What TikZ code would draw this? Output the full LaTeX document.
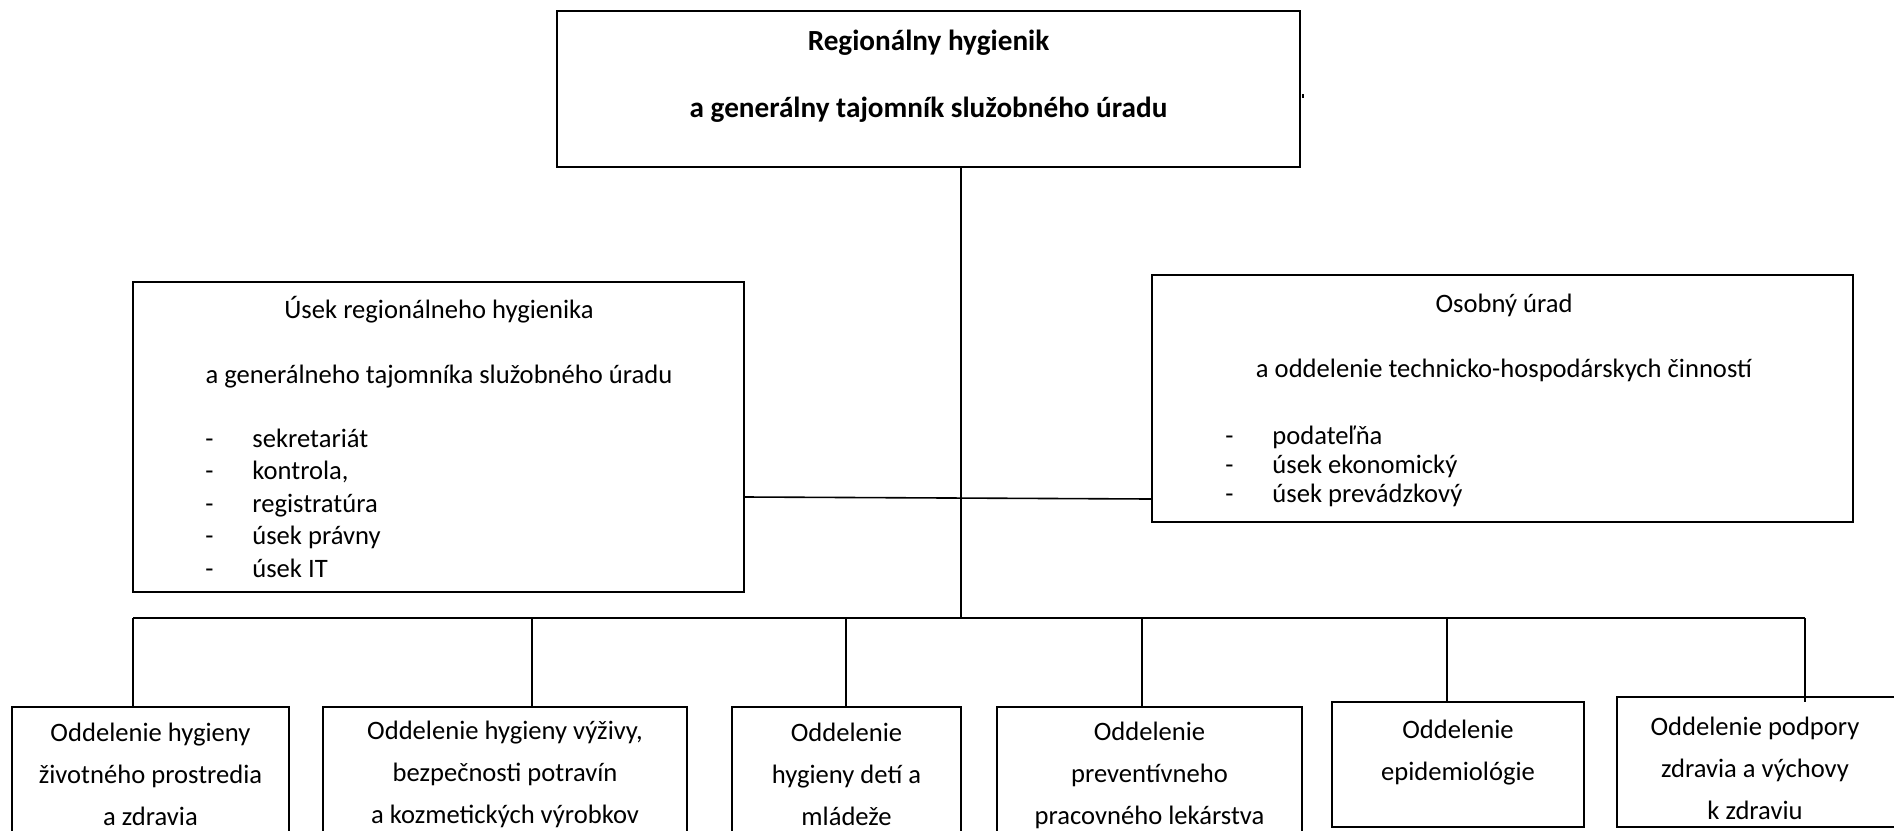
\documentclass[tikz,border=0pt]{standalone}
\usepackage{fontspec}
\setmainfont{Carlito}
\newcommand{\dashitem}[1]{\makebox[23.5pt][l]{-}#1}
\begin{document}
\begin{tikzpicture}[x=0.5pt,y=-0.5pt,
  box/.style={draw, line width=1.2pt, inner sep=0pt},
  conn/.style={line width=0.8pt},
  ttl/.style={inner sep=0pt, align=center, font=\fontsize{13.3}{32.5}\selectfont},
  lstl/.style={inner sep=0pt, align=left, anchor=west, font=\fontsize{13.3}{16.25}\selectfont},
  lstr/.style={inner sep=0pt, align=left, anchor=west, font=\fontsize{13.3}{14.5}\selectfont},
  bot/.style={inner sep=0pt, align=center, font=\fontsize{13.3}{21}\selectfont},
  head/.style={inner sep=0pt, align=center, font=\fontsize{14.6}{33.5}\selectfont\bfseries}]
\useasboundingbox (0,0) rectangle (1894,830);
\clip (0,0) rectangle (1894,830);

% boxes
\node[box, minimum width=371.5pt, minimum height=78pt] (top) at (928.5,89) {};
\node[box, minimum width=305.5pt, minimum height=155pt] (left) at (438.5,437) {};
\node[box, minimum width=350.5pt, minimum height=123.5pt] (right) at (1502.5,398.5) {};
\node[box, minimum width=138.5pt, minimum height=96.5pt] (b1) at (150.5,803.5) {};
\node[box, minimum width=182pt, minimum height=96.5pt] (b2) at (505,803.5) {};
\node[box, minimum width=114.5pt, minimum height=96.5pt] (b3) at (846.5,803.5) {};
\node[box, minimum width=152.5pt, minimum height=96.5pt] (b4) at (1149.5,803.5) {};
\node[box, minimum width=126pt, minimum height=62.5pt] (b5) at (1458,764.5) {};
\node[box, minimum width=166.5pt, minimum height=65pt] (b6) at (1783.5,762) {};

% texts
\node[head] (ttop) at (928.5,76.5) {Regionálny hygienik\\a generálny tajomník služobného úradu};
\node[ttl] (tleft) at (439,342.5) {Úsek regionálneho hygienika\\a generálneho tajomníka služobného úradu};
\node[lstl] (ileft) at (205,503) {\dashitem{sekretariát}\\\dashitem{kontrola,}\\\dashitem{registratúra}\\\dashitem{úsek právny}\\\dashitem{úsek IT}};
\node[ttl] (tright) at (1504,337.5) {Osobný úrad\\a oddelenie technicko-hospodárskych činností};
\node[lstr] (iright) at (1225,466) {\dashitem{podateľňa}\\\dashitem{úsek ekonomický}\\\dashitem{úsek prevádzkový}};
\node[bot] (t1) at (150.5,774) {Oddelenie hygieny\\životného prostredia\\a zdravia};
\node[bot] (t2) at (505,774) {Oddelenie hygieny výživy,\\bezpečnosti potravín\\a kozmetických výrobkov};
\node[bot] (t3) at (846.5,774) {Oddelenie\\hygieny detí a\\mládeže};
\node[bot] (t4) at (1149.5,775) {Oddelenie\\preventívneho\\pracovného lekárstva};
\node[bot] (t5) at (1458,753) {Oddelenie\\epidemiológie};
\node[bot] (t6) at (1755,768) {Oddelenie podpory\\zdravia a výchovy\\k zdraviu};

% connectors
\coordinate (m) at (961,618);
\coordinate (j1) at (133,618);
\coordinate (j2) at (532,618);
\coordinate (j3) at (846,618);
\coordinate (j4) at (1142,618);
\coordinate (j5) at (1447,618);
\coordinate (j6) at (1805,618);
\coordinate (e6) at (1805,702);
\draw[conn] (top.south -| m) -- (m);
\draw[conn] (left.east |- 0,497) -- (right.west |- 0,499);
\draw[conn] (j1) -- (j6);
\draw[conn] (j1) -- (j1 |- b1.north);
\draw[conn] (j2) -- (j2 |- b2.north);
\draw[conn] (j3) -- (j3 |- b3.north);
\draw[conn] (j4) -- (j4 |- b4.north);
\draw[conn] (j5) -- (j5 |- b5.north);
\draw[conn] (j6) -- (e6);

% stray mark right of the top box
\draw[line width=0.8pt] (1303,94) -- (1303,98);
\end{tikzpicture}
\end{document}
